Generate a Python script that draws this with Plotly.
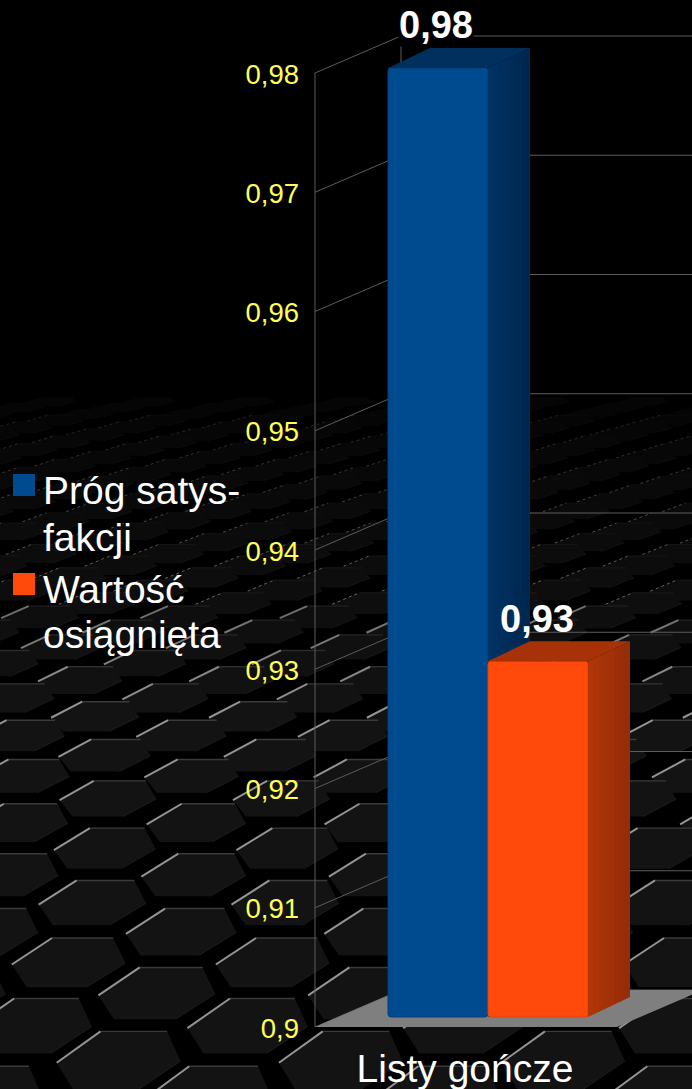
import numpy as np
import plotly.graph_objects as go

# ---------- data ----------
categories = ["Listy gończe"]
series_names = ["Próg satys-<br>fakcji", "Wartość<br>osiągnięta"]
threshold_values = [0.98]
achieved_values = [0.93]
y_ticks = [0.90, 0.91, 0.92, 0.93, 0.94, 0.95, 0.96, 0.97, 0.98]

# ---------- style / geometry ----------
W, H = 692, 1089
FONT = "Liberation Sans"
PX_PER_UNIT = 954 / 0.08       # axis scale
Y0_PX = 1027                   # pixel row of value 0.9
BACK_DX, BACK_DY = 86, 37      # chart depth
BAR_DX, BAR_DY = 42, 20        # bar depth
BAR_INSET = 10                 # bar front sits this far above the floor's front edge
BAR_W = 100
AXIS_X = 315
FLOOR_W = 302
BAR_X = [438, 538]
CAT_X = 465


def fmt(v):
    s = f"{v:.2f}".rstrip("0")
    return s.replace(".", ",")


def val(px):
    """value on the y axis that falls on pixel row px"""
    return 0.9 + (Y0_PX - px) / PX_PER_UNIT


def px_off(p):
    """value delta for p pixels upward"""
    return p / PX_PER_UNIT


shapes = []

# ---------- background : hexagon tiled floor (decoration only) ----------
shapes.append(dict(type="rect", xref="paper", yref="paper", x0=0, x1=1, y0=0, y1=1,
                   fillcolor="#000000", line_width=0, layer="below"))


def row_w(y):
    return 103 + 0.195 * (y - 420)


def row_s(y):
    return np.interp(y, [400, 420, 505, 600, 680, 760, 820, 950, 1050, 1200],
                     [5.5, 6.6, 9.5, 13, 17, 20, 24, 30, 36, 44])


def grey(g):
    g = int(g)
    return f"rgb({g},{g},{g})"


rows = [(938.0, 52.0)]
y, x = rows[0]
while y > 398:
    ny = y - row_s(y)
    x = x - 0.43 * row_w(ny)
    y = ny
    rows.insert(0, (y, x))
y, x = rows[-1]
while y < H + 10:
    nx = x + 0.43 * row_w(y)
    y = y + row_s(y)
    x = nx
    rows.append((y, x))

HEX = [(0, 0), (0.30, 0), (0.36, 0.85), (0.17, 1.67), (-0.123, 1.67), (-0.197, 0.9)]


def P(x, y):
    return f"{x / W:.5f},{1 - y / H:.5f}"


for y, x0 in rows:
    w, s = row_w(y), row_s(y)
    t = np.clip((y - 400) / 300, 0, 1)
    fill = grey(5 + 14 * t ** 0.9)
    hi = grey(28 + 120 * t)
    top = grey(10 + 48 * t ** 2)
    fpath, lpath, tpath, bpath = "", "", "", ""
    k0 = int(np.floor((-60 - x0) / w))
    k1 = int(np.ceil((W + 60 - x0) / w))
    for k in range(k0, k1 + 1):
        xx = x0 + k * w
        pts = [(xx + a * w, y + b * s) for a, b in HEX]
        fpath += "M" + "L".join(P(*p) for p in pts) + "Z "
        lpath += f"M{P(*pts[5])}L{P(*pts[0])} "
        tpath += f"M{P(*pts[0])}L{P(*pts[1])} "
        bpath += f"M{P(*pts[3])}L{P(*pts[2])} "
    common = dict(type="path", xref="paper", yref="paper", layer="below")
    shapes.append(dict(path=fpath, fillcolor=fill, line_width=0, **common))
    if y > 410:
        dash = "dot" if y < 600 else "solid"
        lw = 1.0 if y < 600 else 2.0
        shapes.append(dict(path=bpath, line=dict(color=grey(10 + 18 * t), width=1), **common))
        shapes.append(dict(path=tpath, line=dict(color=top, width=1.4 if y > 600 else 1), **common))
        shapes.append(dict(path=lpath, line=dict(color=hi, width=lw, dash=dash), **common))

# ---------- chart walls, grid and floor ----------
GRID = "#5c5c5c"
ax_back = AXIS_X + BACK_DX
for v in y_ticks:
    shapes.append(dict(type="path", xref="x", yref="y", layer="below",
                       path=f"M{AXIS_X},{v}L{ax_back},{v + px_off(BACK_DY)}L{W + 2},{v + px_off(BACK_DY)}",
                       line=dict(color=GRID, width=1)))
top_v, bot_v = max(y_ticks), min(y_ticks)
shapes.append(dict(type="line", xref="x", yref="y", layer="below", x0=AXIS_X, x1=AXIS_X,
                   y0=bot_v, y1=top_v, line=dict(color=GRID, width=1)))
shapes.append(dict(type="line", xref="x", yref="y", layer="below", x0=ax_back, x1=ax_back,
                   y0=bot_v + px_off(BACK_DY), y1=top_v + px_off(BACK_DY),
                   line=dict(color=GRID, width=1)))
shapes.append(dict(type="path", xref="x", yref="y", layer="below",
                   path=(f"M{AXIS_X},{bot_v}L{AXIS_X + FLOOR_W},{bot_v}"
                         f"L{AXIS_X + FLOOR_W + BACK_DX},{bot_v + px_off(BACK_DY)}"
                         f"L{ax_back},{bot_v + px_off(BACK_DY)}Z"),
                   fillcolor="#7f7f7f", line_width=0))

# ---------- bars ----------
SERIES = [
    dict(v=threshold_values[0], cx=BAR_X[0], front="#004a8f", edge="#03407c", topc="#01305f",
         side0=(0, 50, 100), side1=(0, 38, 76), xa="x", ya="y"),
    dict(v=achieved_values[0], cx=BAR_X[1], front="#ff4a0c", edge="#e0400a", topc="#a83208",
         side0=(176, 54, 8), side1=(146, 44, 8), xa="x2", ya="y2"),
]
base_v = val(Y0_PX - BAR_INSET)
SCALE = 949 / 954
traces = []
annots = []
for i, sr in enumerate(SERIES):
    top = base_v + (sr["v"] - 0.9) * SCALE
    x0, x1 = sr["cx"] - BAR_W / 2, sr["cx"] + BAR_W / 2
    dy = px_off(BAR_DY)
    # top face
    traces.append(go.Scatter(x=[x0, x1, x1 + BAR_DX, x0 + BAR_DX, x0],
                             y=[top, top, top + dy, top + dy, top],
                             mode="lines", fill="toself", fillcolor=sr["topc"], line_width=0,
                             hoverinfo="skip", showlegend=False, xaxis=sr["xa"], yaxis=sr["ya"]))
    # side face, shaded in strips
    n = 8
    for j in range(n):
        a, b = j / n, min((j + 1.3) / n, 1)
        c = [int(sr["side0"][m] + (sr["side1"][m] - sr["side0"][m]) * a) for m in range(3)]
        traces.append(go.Scatter(
            x=[x1 + a * BAR_DX, x1 + b * BAR_DX, x1 + b * BAR_DX, x1 + a * BAR_DX, x1 + a * BAR_DX],
            y=[base_v + a * dy, base_v + b * dy, top + b * dy, top + a * dy, base_v + a * dy],
            mode="lines", fill="toself", fillcolor=f"rgb({c[0]},{c[1]},{c[2]})", line_width=0,
            hoverinfo="skip", showlegend=False, xaxis=sr["xa"], yaxis=sr["ya"]))
    # front face
    traces.append(go.Bar(x=[sr["cx"]], y=[top - base_v], base=[base_v], width=[BAR_W],
                         marker=dict(color=sr["front"], cornerradius=3,
                                     line=dict(color=sr["edge"], width=1)),
                         name=series_names[i].replace("<br>", ""), hoverinfo="skip",
                         showlegend=False, xaxis=sr["xa"], yaxis=sr["ya"]))
    # data label
    annots.append(dict(x=sr["cx"] - 2 + (i * 1), y=top + dy + px_off(23 - i), xref="x", yref="y",
                       text=f"<b>{fmt(sr['v'])}</b>", showarrow=False, yanchor="middle",
                       bgcolor="#000000" if i == 0 else None,
                       borderpad=0,
                       font=dict(family=FONT, size=38, color="#ffffff")))

# ---------- legend ----------
LEG_COL = ["#004a8f", "#ff4a0c"]
LEG_Y = [474, 573]
LEG_TY = [[490, 537], [589, 634]]
for i in range(2):
    shapes.append(dict(type="rect", xref="paper", yref="paper", x0=13 / W, x1=35 / W,
                       y0=1 - (LEG_Y[i] + 22) / H, y1=1 - LEG_Y[i] / H,
                       fillcolor=LEG_COL[i], line_width=0, layer="above"))
    for line, ty in zip(series_names[i].split("<br>"), LEG_TY[i]):
        annots.append(dict(x=41 / W, y=1 - ty / H, xref="paper", yref="paper",
                           text=line, showarrow=False, xanchor="left", yanchor="middle",
                           align="left", font=dict(family=FONT, size=39, color="#ffffff")))

# ---------- layout ----------
y_range = [val(H), val(0)]
hidden = dict(range=[0, W], visible=False, fixedrange=True)
fig = go.Figure(traces)
fig.update_layout(
    width=W, height=H, margin=dict(l=0, r=0, t=0, b=0, pad=0),
    paper_bgcolor="#000000", plot_bgcolor="rgba(0,0,0,0)",
    showlegend=False, barmode="overlay", shapes=shapes, annotations=annots,
    xaxis=dict(range=[0, W], domain=[0, 1], tickmode="array", tickvals=[CAT_X], ticktext=categories,
               ticklabelposition="inside", ticks="", ticklabelstandoff=-4, showgrid=False,
               zeroline=False, showline=False,
               tickfont=dict(family=FONT, size=39, color="#ffffff"), fixedrange=True),
    yaxis=dict(range=y_range, domain=[0, 1], anchor="free", position=AXIS_X / W, tickmode="array",
               tickvals=y_ticks, ticktext=[fmt(v) for v in y_ticks], ticks="", ticklabelstandoff=16,
               ticklabelshift=1, showgrid=False, zeroline=False, showline=False,
               tickfont=dict(family=FONT, size=27.5, color="#ffff55"), fixedrange=True),
    xaxis2=dict(overlaying="x", **hidden),
    yaxis2=dict(overlaying="y", range=y_range, visible=False, fixedrange=True),
)
fig.write_html("out.html", config=dict(displayModeBar=False),
               post_script="document.body.style.margin='0';document.body.style.background='#000';document.documentElement.style.overflow='hidden';")
